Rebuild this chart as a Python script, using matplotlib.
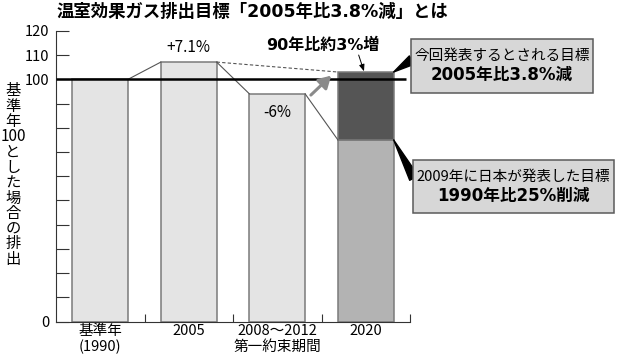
import matplotlib
matplotlib.use('Agg')
import matplotlib.pyplot as plt
from matplotlib.patches import Rectangle

plt.rcParams['font.family'] = ['Noto Sans CJK JP', 'DejaVu Sans']
wide = ['DejaVu Sans', 'Noto Sans CJK JP']

# data
categories = ['基準年\n(1990)', '2005', '2008〜2012\n第一約束期間', '2020']
values = [100, 107.1, 94]
target_2009 = 75      # 1990年比25%削減
target_new = 103      # 2005年比3.8%減 = 90年比約3%増
change_labels = ['+7.1%', '-6%']
ylabel = '基準年\n100\nとした場合の排出'

W, H = 620, 360


def fx(px, py):
    # pixel position (top-left origin) -> figure fraction
    return (px / W, 1 - py / H)


fig = plt.figure(figsize=(6.2, 3.6), dpi=100)
ax = fig.add_axes([56 / W, 1 - 321.7 / H, (410 - 56) / W, (321.7 - 30.8) / H])

bw = 0.63
hw = bw / 2
light = '#e4e4e4'
edge = '#7a7a7a'

ax.bar(range(3), values, width=bw, color=light, edgecolor=edge, linewidth=1.1, zorder=2)
ax.bar(3, target_2009, width=bw, color='#b3b3b3', edgecolor=edge, linewidth=1.1, zorder=2)
ax.bar(3, target_new - target_2009, bottom=target_2009, width=bw, color='#555555',
       edgecolor=edge, linewidth=1.1, zorder=2)

ax.hlines(100, -0.5, 3.45, color='black', linewidth=1.8, zorder=4)

# connectors
lc = '#555555'
ax.plot([0 + hw, 1 - hw], [values[0], values[1]], color=lc, lw=0.8, zorder=3)
ax.plot([1 + hw, 2 - hw], [values[1], values[2]], color=lc, lw=0.8, zorder=3)
ax.plot([1 + hw, 3 - hw], [values[1], target_new], color=lc, lw=0.8, ls=(0, (3, 2)), zorder=3)
ax.plot([2 + hw, 3 - hw], [values[2], target_2009], color=lc, lw=0.8, zorder=3)

ax.annotate('', xy=(2.61, 101.5), xytext=(2.38, 93.5),
            arrowprops=dict(arrowstyle='-|>,head_length=0.6,head_width=0.35', color='#8a8a8a',
                            lw=2.2, mutation_scale=12, shrinkA=0, shrinkB=0), zorder=5)

ax.text(1, 113, change_labels[0], ha='center', va='center', fontsize=11)
ax.text(2, 86.5, change_labels[1], ha='center', va='center', fontsize=11)
ax.text(2.51, 114, '90年比約3%増', ha='center', va='center', fontsize=11.5,
        fontweight='bold', family=wide)
ax.annotate('', xy=(2.98, 103.3), xytext=(2.92, 110),
            arrowprops=dict(arrowstyle='-|>,head_length=0.5,head_width=0.2', color='black',
                            lw=0.7, mutation_scale=8, shrinkA=0, shrinkB=0))

# axes styling
ax.set_xlim(-0.5, 3.5)
ax.set_ylim(0, 120)
ax.spines['top'].set_visible(False)
ax.spines['right'].set_visible(False)
ax.spines['left'].set_color('#333333')
ax.spines['bottom'].set_color('#333333')
ax.set_yticks([0, 100, 110, 120])
ax.set_yticks(range(10, 100, 10), minor=True)
ax.tick_params(axis='y', which='both', direction='in', length=9, width=0.8,
               color='#333333', labelsize=10.5, pad=5)
ax.set_xticks(range(4), categories)
ax.set_xticks([0.5, 1.5, 2.5, 3.5], minor=True)
ax.tick_params(axis='x', which='major', length=0, labelsize=10.5, pad=2)
ax.tick_params(axis='x', which='minor', direction='in', length=6, width=0.8, color='#333333')
for lab in ax.get_xticklabels():
    lab.set_linespacing(1.1)

fig.text(*fx(57, 12), '温室効果ガス排出目標「2005年比3.8%減」とは', ha='left', va='center',
         fontsize=12.5, fontweight='bold', family=wide)
fig.text(*fx(13, 175), ylabel.replace('基準年\n', '基\n準\n年\n').replace('とした場合の排出', '\n'.join('とした場合の排出')),
         ha='center', va='center', fontsize=11, linespacing=0.87)

# callout boxes
boxes = [
    ((411, 39, 182, 54), '今回発表するとされる目標', '2005年比3.8%減', (3 + hw, target_new), (412, 60)),
    ((413, 160, 201, 53), '2009年に日本が発表した目標', '1990年比25%削減', (3 + hw, target_2009), (414, 178)),
]
for (bx, by, bwid, bht), l1, l2, tip, base in boxes:
    x0, y0 = fx(bx, by + bht)
    rect = Rectangle((x0, y0), bwid / W, bht / H, transform=fig.transFigure,
                     facecolor='#d7d7d7', edgecolor='#5a5a5a', linewidth=1.1, zorder=2)
    fig.add_artist(rect)
    cx = bx + bwid / 2
    fig.text(*fx(cx, by + 17), l1, ha='center', va='center', fontsize=10.5, zorder=3)
    fig.text(*fx(cx, by + 36), l2, ha='center', va='center', fontsize=12,
             fontweight='bold', family=wide, zorder=3)
    ax.annotate('', xy=tip, xytext=fx(*base), textcoords='figure fraction',
                arrowprops=dict(arrowstyle='wedge,tail_width=0.7,shrink_factor=0.5',
                                fc='black', ec='black', mutation_scale=10,
                                shrinkA=0, shrinkB=0),
                annotation_clip=False, zorder=5)

fig.savefig('out.png', dpi=100)
